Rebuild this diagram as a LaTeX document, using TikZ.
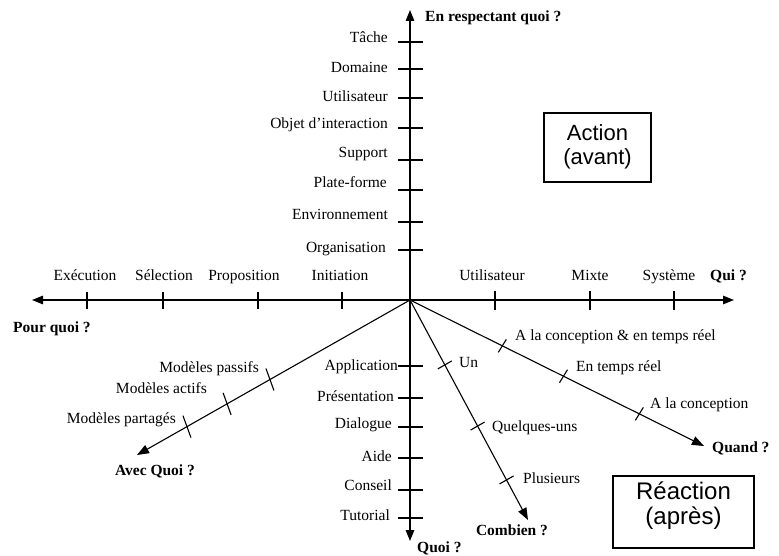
\documentclass[tikz,border=0pt]{standalone}
\usepackage{fontspec}
\setmainfont{Liberation Serif}
\newfontfamily\boxfont{Liberation Sans}
\usetikzlibrary{arrows.meta,calc}
\begin{document}
\begin{tikzpicture}[x=1pt,y=-1pt,
  axis/.style={line width=1.3pt,-{Triangle[length=11pt,width=8.5pt]}},
  diag/.style={line width=1.1pt,-{Triangle[length=12pt,width=9pt]}},
  tickmark/.style={line width=1.1pt},
  lbl/.style={font=\fontsize{15.5}{18}\selectfont,inner sep=0pt},
  qlbl/.style={font=\fontsize{15.5}{18}\selectfont\bfseries,inner sep=0pt},
  framebox/.style={draw,line width=1.1pt,inner sep=0pt},
  boxtext/.style={align=center,inner sep=0pt}
]
\useasboundingbox (0,0) rectangle (779,556);

% origin and axis ends
\coordinate (O) at (410,300);
\coordinate (N) at (410,10);
\coordinate (S) at (410,541);
\coordinate (W) at (32,300);
\coordinate (E) at (734,300);
\coordinate (Qd) at (704,446);
\coordinate (Cb) at (528,520);
\coordinate (Av) at (137,455);

% main axes
\draw[axis] (O) -- (N);
\draw[axis] (O) -- (S);
\draw[axis] (O) -- (W);
\draw[axis] (O) -- (E);

% oblique axes
\draw[diag] (O) -- (Qd);
\draw[diag] (O) -- (Cb);
\draw[diag] (O) -- (Av);

% ticks on the vertical axis
\foreach \y in {42,69,98,128,160,190,222,250,366,398,427,458,490,518}
  \draw[tickmark] (398,\y) -- (423,\y);
% ticks on the horizontal axis
\foreach \x in {87,163,258,342}
  \draw[tickmark] (\x,292) -- (\x,309);
\foreach \x in {495,590,674}
  \draw[tickmark] (\x,291) -- (\x,310);
% ticks on the oblique axes
\foreach \t in {0.314,0.522,0.78}
  \draw[tickmark] ($(O)!\t!(Qd)+(-4,6.5)$) -- +(8,-13);
\foreach \t in {0.295,0.573,0.818}
  \draw[tickmark] ($(O)!\t!(Cb)+(-7,4)$) -- +(14,-8);
\foreach \t in {0.513,0.670,0.817}
  \draw[tickmark] ($(O)!\t!(Av)+(-4,-11)$) -- +(8,22);

% upper half of the vertical axis
\node[lbl,anchor=base east] (r1) at (388,43) {Tâche};
\node[lbl,anchor=base east] (r2) at (388,73) {Domaine};
\node[lbl,anchor=base east] (r3) at (388,102) {Utilisateur};
\node[lbl,anchor=base east] (r4) at (388,129) {Objet d’interaction};
\node[lbl,anchor=base east] (r5) at (388,158) {Support};
\node[lbl,anchor=base east] (r6) at (387,188) {Plate-forme};
\node[lbl,anchor=base east] (r7) at (388,219) {Environnement};
\node[lbl,anchor=base east] (r8) at (386,252) {Organisation};
\node[qlbl,anchor=base west] (qn) at (425,22) {En respectant quoi ?};

% lower half of the vertical axis
\node[lbl,anchor=base east] (w1) at (398,370) {Application};
\node[lbl,anchor=base east] (w2) at (394,401) {Présentation};
\node[lbl,anchor=base east] (w3) at (392,428) {Dialogue};
\node[lbl,anchor=base east] (w4) at (392,461) {Aide};
\node[lbl,anchor=base east] (w5) at (392,490) {Conseil};
\node[lbl,anchor=base east] (w6) at (390,520) {Tutorial};
\node[qlbl,anchor=base west] (qs) at (417,552) {Quoi ?};

% left half of the horizontal axis
\node[lbl,anchor=base] (p1) at (85,280) {Exécution};
\node[lbl,anchor=base] (p2) at (164,280) {Sélection};
\node[lbl,anchor=base] (p3) at (244,280) {Proposition};
\node[lbl,anchor=base] (p4) at (340,280) {Initiation};
\node[qlbl,anchor=base west] (qw) at (13,332) {Pour quoi ?};

% right half of the horizontal axis
\node[lbl,anchor=base] (u1) at (492,280) {Utilisateur};
\node[lbl,anchor=base] (u2) at (590,280) {Mixte};
\node[lbl,anchor=base] (u3) at (669,280) {Système};
\node[qlbl,anchor=base west] (qe) at (710,280) {Qui ?};

% "Quand" axis
\node[lbl,anchor=base west] (k1) at (515,340) {A la conception \& en temps réel};
\node[lbl,anchor=base west] (k2) at (576,371) {En temps réel};
\node[lbl,anchor=base west] (k3) at (650,408) {A la conception};
\node[qlbl,anchor=base west] (qk) at (712,452) {Quand ?};

% "Combien" axis
\node[lbl,anchor=base west] (c1) at (459,367) {Un};
\node[lbl,anchor=base west] (c2) at (492,431) {Quelques-uns};
\node[lbl,anchor=base west] (c3) at (523,483) {Plusieurs};
\node[qlbl,anchor=base] (qc) at (512,535) {Combien ?};

% "Avec quoi" axis
\node[lbl,anchor=base east] (m1) at (259,372) {Modèles passifs};
\node[lbl,anchor=base east] (m2) at (207,393) {Modèles actifs};
\node[lbl,anchor=base east] (m3) at (176,423) {Modèles partagés};
\node[qlbl,anchor=base] (qa) at (155,475) {Avec Quoi ?};

% framed captions
\node[framebox,minimum width=107pt,minimum height=69pt] (actbox) at (597.5,147.5) {};
\node[boxtext,font=\boxfont\fontsize{22}{23.5}\selectfont] (acttxt) at (597.5,147) {Action\\(avant)};
\node[framebox,minimum width=141pt,minimum height=72pt] (reabox) at (683.5,512) {};
\node[boxtext,font=\boxfont\fontsize{24}{25}\selectfont] (reatxt) at (683.5,505.5) {Réaction\\(après)};
\end{tikzpicture}
\end{document}
